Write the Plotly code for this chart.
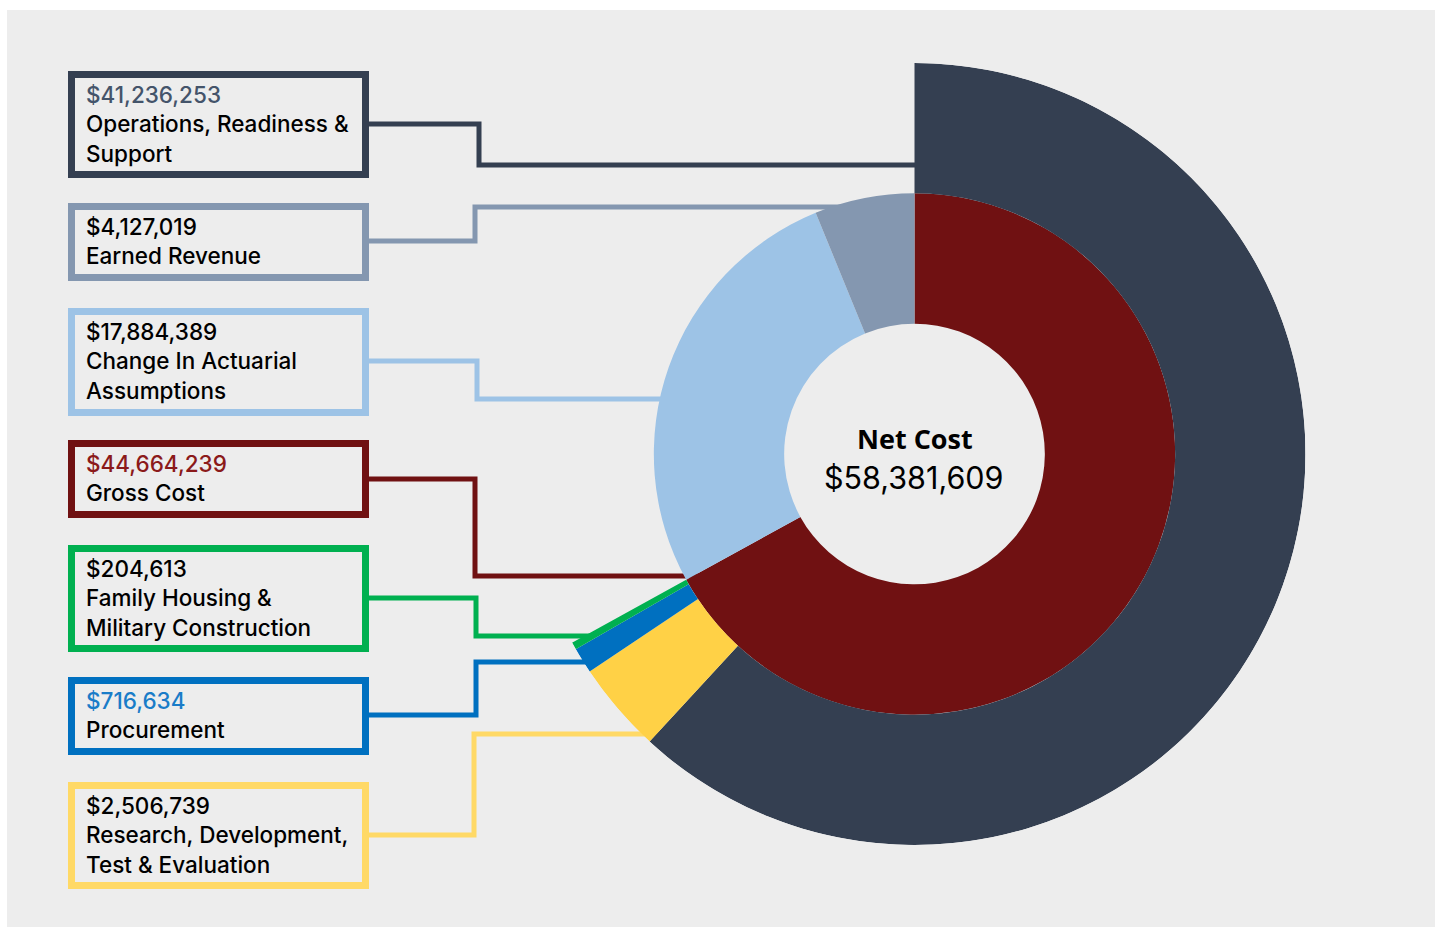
import plotly.graph_objects as go

W, H = 1435, 927

# ---- data -------------------------------------------------------------
inner_labels = ["Gross Cost", "Change In Actuarial Assumptions", "Earned Revenue"]
inner_values = [44664239, 17884389, 4127019]
inner_colors = ["#701112", "#9dc3e6", "#8497b0"]

outer_labels = ["Operations, Readiness & Support",
                "Research, Development, Test & Evaluation",
                "Procurement",
                "Family Housing & Military Construction"]
outer_values = [41236253, 2506739, 716634, 204613]
outer_colors = ["#343f51", "#ffd146", "#0070c0", "#00b050"]

net_cost = 58381609

# ---- geometry of the rings (pixels) -----------------------------------
CX, CY, R = 914.5, 454.0, 391.0
BG = "#ededed"


def spans(values, start, total_deg):
    s = sum(values)
    widths = [total_deg * v / s for v in values]
    centers, a = [], start
    for w in widths:
        centers.append(a + w / 2)
        a += w
    return centers, widths


inner_theta, inner_width = spans(inner_values, 0, 360)
# the gross-cost breakdown fills the same arc as gross cost
outer_theta, outer_width = spans(outer_values, 0, inner_width[0])

fig = go.Figure()

# invisible trace that sets up a pixel-space cartesian frame for decorations
fig.add_trace(go.Scatter(x=[0, W], y=[0, H], mode="markers",
                         marker=dict(opacity=0), hoverinfo="skip",
                         showlegend=False))

fig.add_trace(go.Barpolar(
    theta=inner_theta, width=inner_width,
    r=[1] * len(inner_values), base=[1] * len(inner_values),
    marker=dict(color=inner_colors, line=dict(width=0)),
    hovertext=[f"{l}: ${v:,}" for l, v in zip(inner_labels, inner_values)],
    hoverinfo="text", showlegend=False))

fig.add_trace(go.Barpolar(
    theta=outer_theta, width=outer_width,
    r=[1] * len(outer_values), base=[2] * len(outer_values),
    marker=dict(color=outer_colors, line=dict(width=0)),
    hovertext=[f"{l}: ${v:,}" for l, v in zip(outer_labels, outer_values)],
    hoverinfo="text", showlegend=False))

# ---- callout boxes ------------------------------------------------------
FONT = "Inter"
callouts = [
    dict(value=outer_values[0], text="Operations, Readiness &amp;<br>Support",
         border="#343f51", vcolor="#44546a", top=71, bottom=178,
         path=[(369, 124), (479, 124), (479, 165), (925, 165)]),
    dict(value=inner_values[2], text="Earned Revenue",
         border="#8497b0", vcolor="#000000", top=203, bottom=281,
         path=[(369, 241), (475, 241), (475, 207), (860, 207)]),
    dict(value=inner_values[1], text="Change In Actuarial<br>Assumptions",
         border="#9dc3e6", vcolor="#000000", top=308, bottom=416,
         path=[(369, 361), (477, 361), (477, 399), (680, 399)]),
    dict(value=inner_values[0], text="Gross Cost",
         border="#701112", vcolor="#8b1a1a", top=440, bottom=518,
         path=[(369, 479), (475, 479), (475, 576), (720, 576)]),
    dict(value=outer_values[3], text="Family Housing &amp;<br>Military Construction",
         border="#00b050", vcolor="#000000", top=545, bottom=652,
         path=[(369, 598), (476, 598), (476, 636), (592, 636)]),
    dict(value=outer_values[2], text="Procurement",
         border="#0070c0", vcolor="#1a7cc8", top=677, bottom=755,
         path=[(369, 715), (476, 715), (476, 662), (595, 662)]),
    dict(value=outer_values[1], text="Research, Development,<br>Test &amp; Evaluation",
         border="#ffd966", vcolor="#000000", top=782, bottom=889,
         path=[(369, 835), (474, 835), (474, 734), (660, 734)]),
]

shapes = [dict(type="rect", xref="x", yref="y", x0=7, x1=W, y0=10, y1=H,
               fillcolor=BG, line=dict(width=0), layer="below")]
annotations = []
BW = 7
for c in callouts:
    shapes.append(dict(type="rect", xref="x", yref="y",
                       x0=68 + BW / 2, x1=369 - BW / 2,
                       y0=c["top"] + BW / 2, y1=c["bottom"] - BW / 2,
                       line=dict(color=c["border"], width=BW),
                       fillcolor="rgba(0,0,0,0)", layer="below"))
    pts = c["path"]
    d = "M " + " L ".join(f"{x},{y}" for x, y in pts)
    shapes.append(dict(type="path", xref="x", yref="y", path=d,
                       line=dict(color=c["border"], width=5), layer="below"))
    annotations.append(dict(
        xref="x", yref="y", x=84, y=(c["top"] + c["bottom"]) / 2 - 1,
        xanchor="left", yanchor="middle", align="left", showarrow=False,
        text=f"<span style='color:{c['vcolor']}'>${c['value']:,}</span><br>{c['text']}",
        font=dict(family=FONT, size=22.5, weight=450, color="#000000")))

# centre label
annotations.append(dict(xref="x", yref="y", x=CX, y=438, showarrow=False,
                        xanchor="center", yanchor="middle",
                        text="<b>Net Cost</b>",
                        font=dict(family="Open Sans", size=27, color="#000000")))
annotations.append(dict(xref="x", yref="y", x=CX - 1, y=477, showarrow=False,
                        xanchor="center", yanchor="middle",
                        text=f"${net_cost:,}",
                        font=dict(family=FONT, size=30.5, weight=420, color="#000000")))

fig.update_layout(
    width=W, height=H, margin=dict(l=0, r=0, t=0, b=0),
    paper_bgcolor="white", plot_bgcolor="rgba(0,0,0,0)",
    xaxis=dict(range=[0, W], visible=False, fixedrange=True, domain=[0, 1]),
    yaxis=dict(range=[H, 0], visible=False, fixedrange=True, domain=[0, 1]),
    polar=dict(
        domain=dict(x=[(CX - R) / W, (CX + R) / W],
                    y=[(H - CY - R) / H, (H - CY + R) / H]),
        bgcolor="rgba(0,0,0,0)",
        hole=0,
        radialaxis=dict(range=[0, 3], visible=False, showgrid=False),
        angularaxis=dict(direction="clockwise", rotation=90, visible=False,
                         showgrid=False),
        bargap=0,
    ),
    shapes=shapes, annotations=annotations, showlegend=False,
)

fig.write_html("out.html", config={"displayModeBar": False})
